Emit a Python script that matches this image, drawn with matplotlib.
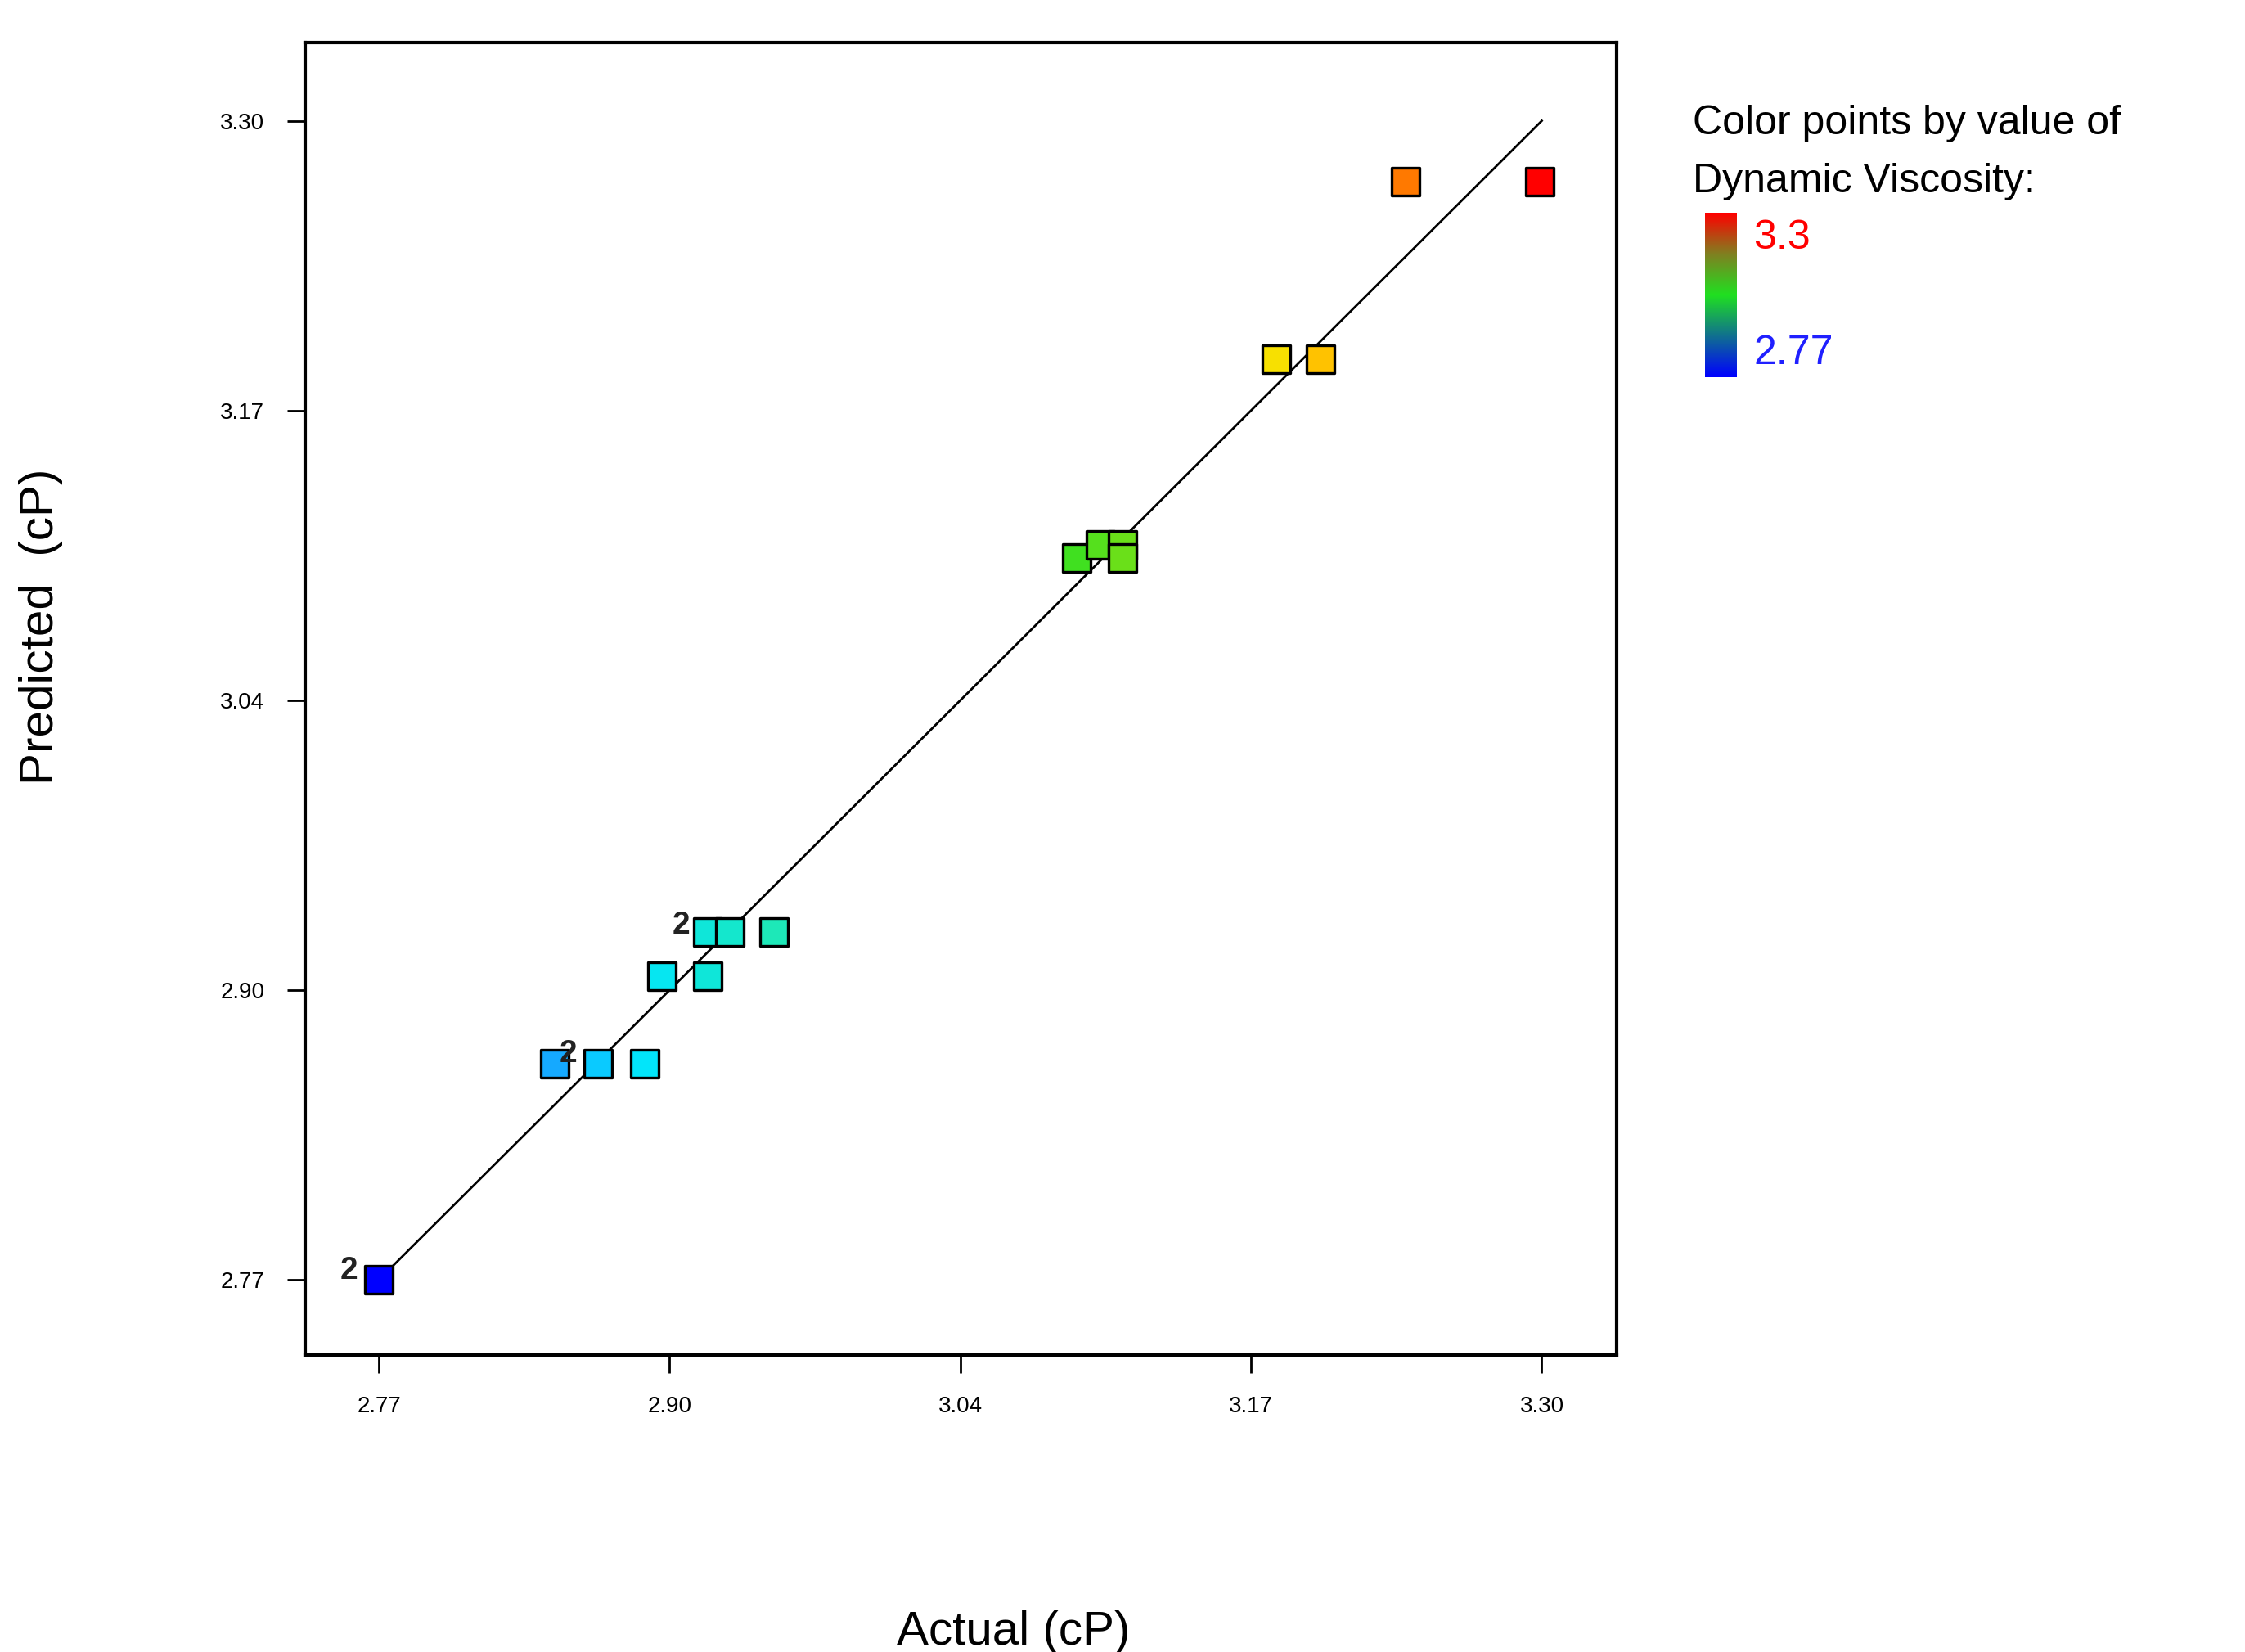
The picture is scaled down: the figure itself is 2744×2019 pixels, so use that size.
import matplotlib
matplotlib.use("Agg")
import matplotlib.pyplot as plt
import numpy as np
from matplotlib.colors import LinearSegmentedColormap

plt.rcParams['font.family'] = ['Liberation Sans', 'DejaVu Sans']

actual = [2.770, 2.850, 2.870, 2.891, 2.899, 2.920, 2.920, 2.930, 2.950,
          3.088, 3.099, 3.109, 3.109, 3.179, 3.199, 3.238, 3.299]
predicted = [2.770, 2.869, 2.869, 2.869, 2.909, 2.909, 2.929, 2.929, 2.929,
             3.100, 3.106, 3.106, 3.100, 3.191, 3.191, 3.272, 3.272]
counts = [2, 2, 1, 1, 1, 1, 2, 1, 1, 1, 1, 1, 1, 1, 1, 1, 1]
tick_vals = [2.77, 2.9025, 3.035, 3.1675, 3.30]
tick_labels = ["2.77", "2.90", "3.04", "3.17", "3.30"]
vmin, vmax = 2.77, 3.30

cmap = LinearSegmentedColormap.from_list("dx", [
    (0.0, "#0000ff"), (0.12, "#1e90ff"), (0.22, "#00e5ff"), (0.35, "#20e8b0"),
    (0.6, "#40e020"), (0.78, "#ffe000"), (0.88, "#ff8000"), (1.0, "#ff0000")])
bar_cmap = LinearSegmentedColormap.from_list("bar", [
    (0.0, "#0000ff"), (0.5, "#20e020"), (0.75, "#808020"), (1.0, "#ff0000")])

fig = plt.figure(figsize=(13.72, 10.095), dpi=200)
ax = fig.add_axes([0.136, 0.18, 0.584, 0.794])
ax.plot([2.775, 3.30], [2.775, 3.30], color="black", lw=1.0, zorder=1)
ax.scatter(actual, predicted, c=actual, cmap=cmap, vmin=vmin, vmax=vmax,
           marker="s", s=150, edgecolors="black", linewidths=1.2, zorder=3)
offsets = {0: (-13, 4), 1: (6, 4), 6: (-12, 3)}
for i, c in enumerate(counts):
    if c > 1:
        ax.annotate(str(c), (actual[i], predicted[i]), xytext=offsets[i],
                    textcoords="offset points", ha="center", va="center",
                    fontsize=14, fontweight="bold", color="#222222", zorder=4)
ax.set_xlim(2.7365, 3.334)
ax.set_ylim(2.7358, 3.3356)
ax.set_xticks(tick_vals)
ax.set_xticklabels(tick_labels)
ax.set_yticks(tick_vals)
ax.set_yticklabels(tick_labels)
ax.tick_params(labelsize=10, length=8, width=1, pad=10)
for s in ax.spines.values():
    s.set_linewidth(1.5)
ax.set_xlabel("Actual (cP)", fontsize=21)
ax.xaxis.set_label_coords(0.54, -0.195)
ax.set_ylabel("Predicted  (cP)", fontsize=21)
ax.yaxis.set_label_coords(-0.185, 0.555)

cax = fig.add_axes([0.7596, 0.7718, 0.0141, 0.0993])
grad = np.linspace(1, 0, 256).reshape(-1, 1)
cax.imshow(grad, aspect="auto", cmap=bar_cmap, vmin=0, vmax=1)
cax.set_axis_off()
fig.text(0.754, 0.925, "Color points by value of", fontsize=18, va="center")
fig.text(0.754, 0.890, "Dynamic Viscosity:", fontsize=18, va="center")
fig.text(0.781, 0.856, "3.3", fontsize=18, color="red", va="center")
fig.text(0.781, 0.786, "2.77", fontsize=18, color="#2020ff", va="center")

fig.savefig("out.png", dpi=200, facecolor="white")
